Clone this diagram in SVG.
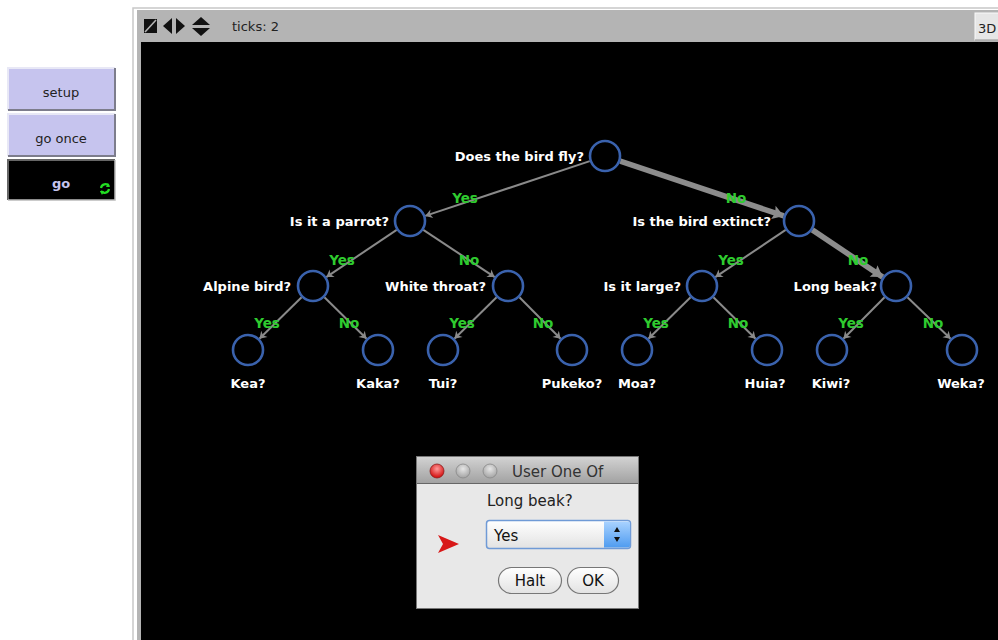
<svg xmlns="http://www.w3.org/2000/svg" width="998" height="640" viewBox="0 0 998 640">
<defs>
<style>
.q{font-family:"DejaVu Sans","Liberation Sans",Arial,sans-serif;font-weight:bold;font-size:13px;fill:#fff}
.g{font-family:"DejaVu Sans","Liberation Sans",Arial,sans-serif;font-weight:bold;font-size:13.5px;fill:#2fcb2f;text-anchor:middle}
.n{fill:#000;stroke:#3a62ad;stroke-width:2.6}
.thin{stroke:#8a8a8a;stroke-width:2;fill:none}
.thick{stroke:#8c8c8c;stroke-width:5.5;fill:none}
.ui{font-family:"DejaVu Sans","Liberation Sans",sans-serif;font-size:13px;fill:#222}
.btn{font-family:"DejaVu Sans","Liberation Sans",sans-serif;font-size:13px;text-anchor:middle}
</style>
<marker id="ah" viewBox="-8 -5 9 10" refX="0" refY="0" markerWidth="9" markerHeight="10" markerUnits="userSpaceOnUse" orient="auto">
<path d="M0,0 L-7,-4.5 L-5,0 L-7,4.5 z" fill="#8a8a8a"/>
</marker>
<marker id="ahb" viewBox="-13 -8 14 16" refX="0" refY="0" markerWidth="14" markerHeight="16" markerUnits="userSpaceOnUse" orient="auto">
<path d="M0,0 L-11,-7 L-9,0 L-11,7 z" fill="#8c8c8c"/>
</marker>
<linearGradient id="tb" x1="0" y1="0" x2="0" y2="1"><stop offset="0" stop-color="#d2d2d2"/><stop offset="1" stop-color="#a2a2a2"/></linearGradient>
<linearGradient id="dd" x1="0" y1="0" x2="0" y2="1"><stop offset="0" stop-color="#ffffff"/><stop offset="1" stop-color="#e2e2e2"/></linearGradient>
<linearGradient id="st" x1="0" y1="0" x2="0" y2="1"><stop offset="0" stop-color="#a9d2ff"/><stop offset="1" stop-color="#4f9cf0"/></linearGradient>
<radialGradient id="red" cx="0.5" cy="0.35" r="0.6"><stop offset="0" stop-color="#ff9a9a"/><stop offset="1" stop-color="#d41212"/></radialGradient>
<radialGradient id="gry" cx="0.5" cy="0.35" r="0.6"><stop offset="0" stop-color="#e6e6e6"/><stop offset="1" stop-color="#a8a8a8"/></radialGradient>
</defs>
<rect width="998" height="640" fill="#fff"/>

<!-- left buttons -->
<g id="btn-setup">
<rect x="8" y="68" width="107" height="42" fill="#c6c4ee"/>
<path d="M8,110 V68 H115" fill="none" stroke="#e8e8f6" stroke-width="2"/>
<path d="M8,110 H115 V68" fill="none" stroke="#7d7d8c" stroke-width="2"/>
<text class="btn" x="61" y="97" fill="#222">setup</text>
</g>
<g id="btn-go-once">
<rect x="8" y="114" width="107" height="42" fill="#c6c4ee"/>
<path d="M8,156 V114 H115" fill="none" stroke="#e8e8f6" stroke-width="2"/>
<path d="M8,156 H115 V114" fill="none" stroke="#7d7d8c" stroke-width="2"/>
<text class="btn" x="61" y="143" fill="#222">go once</text>
</g>
<g id="btn-go">
<rect x="8" y="160" width="107" height="40" fill="#000"/>
<path d="M8,200 V160 H115" fill="none" stroke="#666" stroke-width="2"/>
<path d="M8,200 H115 V160" fill="none" stroke="#bbb" stroke-width="1.5"/>
<text class="btn" x="61" y="188" fill="#c6c4ee" font-weight="bold">go</text>
<path d="M101,188 a4.5,4.5 0 0 1 8,-2 M109,189 a4.5,4.5 0 0 1 -8,2" fill="none" stroke="#22dd22" stroke-width="2.2"/>
<path d="M108,183 L110,187 L106,187 z M102,195 L100,191 L104,191 z" fill="#22dd22"/>
</g>

<!-- view window frame -->
<g id="view-frame">
<rect x="133" y="8" width="870" height="640" fill="#fff" stroke="#c8c8c8" stroke-width="1.5"/>
<rect x="137" y="10" width="866" height="640" fill="#b4b4b4"/>
<rect x="141" y="42" width="862" height="600" fill="#000"/>
<rect x="144" y="19" width="13" height="14" fill="#111"/>
<path d="M145,32 L156,20" stroke="#b4b4b4" stroke-width="1.6"/>
<path d="M163,26 L172,18 V34 z M185,26 L176,18 V34 z" fill="#111"/>
<path d="M201,17 L210,25 H192 z M201,36 L210,28 H192 z" fill="#111"/>
<text class="ui" x="232" y="31" font-size="14">ticks: 2</text>
<rect x="975" y="13" width="30" height="27" fill="#e6e6e6" stroke="#fafafa"/>
<path d="M975,40 H1000" stroke="#888" stroke-width="1"/>
<text class="ui" x="978" y="33" font-size="14" fill="#223">3D</text>
</g>

<!-- connectors -->
<g id="connectors">
<line class="thin" x1="589.8" y1="161.1" x2="425.2" y2="215.9" marker-end="url(#ah)"/>
<line class="thick" x1="620.2" y1="161.1" x2="783.8" y2="215.9" marker-end="url(#ahb)"/>
<line class="thin" x1="396.7" y1="229.9" x2="326.3" y2="277.1" marker-end="url(#ah)"/>
<line class="thin" x1="423.3" y1="229.9" x2="494.7" y2="277.1" marker-end="url(#ah)"/>
<line class="thin" x1="785.7" y1="229.9" x2="715.3" y2="277.1" marker-end="url(#ah)"/>
<line class="thick" x1="812.3" y1="229.9" x2="882.7" y2="277.1" marker-end="url(#ahb)"/>
<line class="thin" x1="301.6" y1="297.2" x2="259.4" y2="338.8" marker-end="url(#ah)"/>
<line class="thin" x1="324.4" y1="297.2" x2="366.6" y2="338.8" marker-end="url(#ah)"/>
<line class="thin" x1="496.6" y1="297.2" x2="454.4" y2="338.8" marker-end="url(#ah)"/>
<line class="thin" x1="519.4" y1="297.2" x2="560.6" y2="338.8" marker-end="url(#ah)"/>
<line class="thin" x1="690.6" y1="297.2" x2="648.4" y2="338.8" marker-end="url(#ah)"/>
<line class="thin" x1="713.4" y1="297.2" x2="755.6" y2="338.8" marker-end="url(#ah)"/>
<line class="thin" x1="884.6" y1="297.2" x2="843.4" y2="338.8" marker-end="url(#ah)"/>
<line class="thin" x1="907.4" y1="297.2" x2="950.6" y2="338.8" marker-end="url(#ah)"/>
<text class="g" x="465" y="203">Yes</text>
<text class="g" x="736" y="203">No</text>
<text class="g" x="342" y="265">Yes</text>
<text class="g" x="469" y="265">No</text>
<text class="g" x="731" y="265">Yes</text>
<text class="g" x="858" y="265">No</text>
<text class="g" x="267" y="328">Yes</text>
<text class="g" x="349" y="328">No</text>
<text class="g" x="462" y="328">Yes</text>
<text class="g" x="543" y="328">No</text>
<text class="g" x="656" y="328">Yes</text>
<text class="g" x="738" y="328">No</text>
<text class="g" x="851" y="328">Yes</text>
<text class="g" x="933" y="328">No</text>
</g>

<!-- nodes -->
<g id="n-fly"><circle class="n" cx="605" cy="156" r="15"/><text class="q" x="584" y="161" text-anchor="end">Does the bird fly?</text></g>
<g id="n-parrot"><circle class="n" cx="410" cy="221" r="15"/><text class="q" x="389" y="226" text-anchor="end">Is it a parrot?</text></g>
<g id="n-extinct"><circle class="n" cx="799" cy="221" r="15"/><text class="q" x="771" y="226" text-anchor="end">Is the bird extinct?</text></g>
<g id="n-alpine"><circle class="n" cx="313" cy="286" r="15"/><text class="q" x="291" y="291" text-anchor="end">Alpine bird?</text></g>
<g id="n-white"><circle class="n" cx="508" cy="286" r="15"/><text class="q" x="486" y="291" text-anchor="end">White throat?</text></g>
<g id="n-large"><circle class="n" cx="702" cy="286" r="15"/><text class="q" x="681" y="291" text-anchor="end">Is it large?</text></g>
<g id="n-longbeak"><circle class="n" cx="896" cy="286" r="15"/><text class="q" x="877" y="291" text-anchor="end">Long beak?</text></g>
<g id="n-kea"><circle class="n" cx="248" cy="350" r="15"/><text class="q" x="248" y="388" text-anchor="middle">Kea?</text></g>
<g id="n-kaka"><circle class="n" cx="378" cy="350" r="15"/><text class="q" x="378" y="388" text-anchor="middle">Kaka?</text></g>
<g id="n-tui"><circle class="n" cx="443" cy="350" r="15"/><text class="q" x="443" y="388" text-anchor="middle">Tui?</text></g>
<g id="n-pukeko"><circle class="n" cx="572" cy="350" r="15"/><text class="q" x="572" y="388" text-anchor="middle">Pukeko?</text></g>
<g id="n-moa"><circle class="n" cx="637" cy="350" r="15"/><text class="q" x="637" y="388" text-anchor="middle">Moa?</text></g>
<g id="n-huia"><circle class="n" cx="767" cy="350" r="15"/><text class="q" x="765" y="388" text-anchor="middle">Huia?</text></g>
<g id="n-kiwi"><circle class="n" cx="832" cy="350" r="15"/><text class="q" x="831" y="388" text-anchor="middle">Kiwi?</text></g>
<g id="n-weka"><circle class="n" cx="962" cy="350" r="15"/><text class="q" x="961" y="388" text-anchor="middle">Weka?</text></g>

<!-- dialog -->
<g id="dialog">
<rect x="416.5" y="456.5" width="222" height="152" fill="#e8e8e8" stroke="#777"/>
<rect x="417" y="457" width="221" height="26" fill="url(#tb)"/>
<line x1="417" y1="483.5" x2="638" y2="483.5" stroke="#666"/>
<circle cx="437" cy="471" r="7" fill="url(#red)" stroke="#8a2020" stroke-width="0.8"/>
<circle cx="463" cy="471" r="7" fill="url(#gry)" stroke="#888" stroke-width="0.8"/>
<circle cx="490" cy="471" r="7" fill="url(#gry)" stroke="#888" stroke-width="0.8"/>
<text x="512" y="477" font-family="'DejaVu Sans','Liberation Sans',sans-serif" font-size="15" fill="#333">User One Of</text>
<text x="487" y="506" font-family="'DejaVu Sans','Liberation Sans',sans-serif" font-size="15" fill="#222">Long beak?</text>
<rect x="486.5" y="520.5" width="144" height="28" rx="3" fill="url(#dd)" stroke="#6f9ad6" stroke-width="1.5"/>
<path d="M604,521.5 H627.5 a2.5,2.5 0 0 1 2.5,2.5 V545 a2.5,2.5 0 0 1 -2.5,2.5 H604 z" fill="url(#st)"/>
<path d="M614,532 L617,527 L620,532 z M614,537 L617,542 L620,537 z" fill="#111"/>
<text x="494" y="541" font-family="'DejaVu Sans','Liberation Sans',sans-serif" font-size="15" fill="#111">Yes</text>
<path d="M438,535 L459,544 L438,553 L443,544 z" fill="#d81818"/>
<rect x="498.5" y="567.5" width="63" height="26" rx="13" fill="url(#dd)" stroke="#777" stroke-width="1.2"/>
<text x="530" y="586" text-anchor="middle" font-family="'DejaVu Sans','Liberation Sans',sans-serif" font-size="15" fill="#111">Halt</text>
<rect x="567.5" y="567.5" width="51" height="26" rx="13" fill="url(#dd)" stroke="#777" stroke-width="1.2"/>
<text x="593" y="586" text-anchor="middle" font-family="'DejaVu Sans','Liberation Sans',sans-serif" font-size="15" fill="#111">OK</text>
</g>
</svg>
